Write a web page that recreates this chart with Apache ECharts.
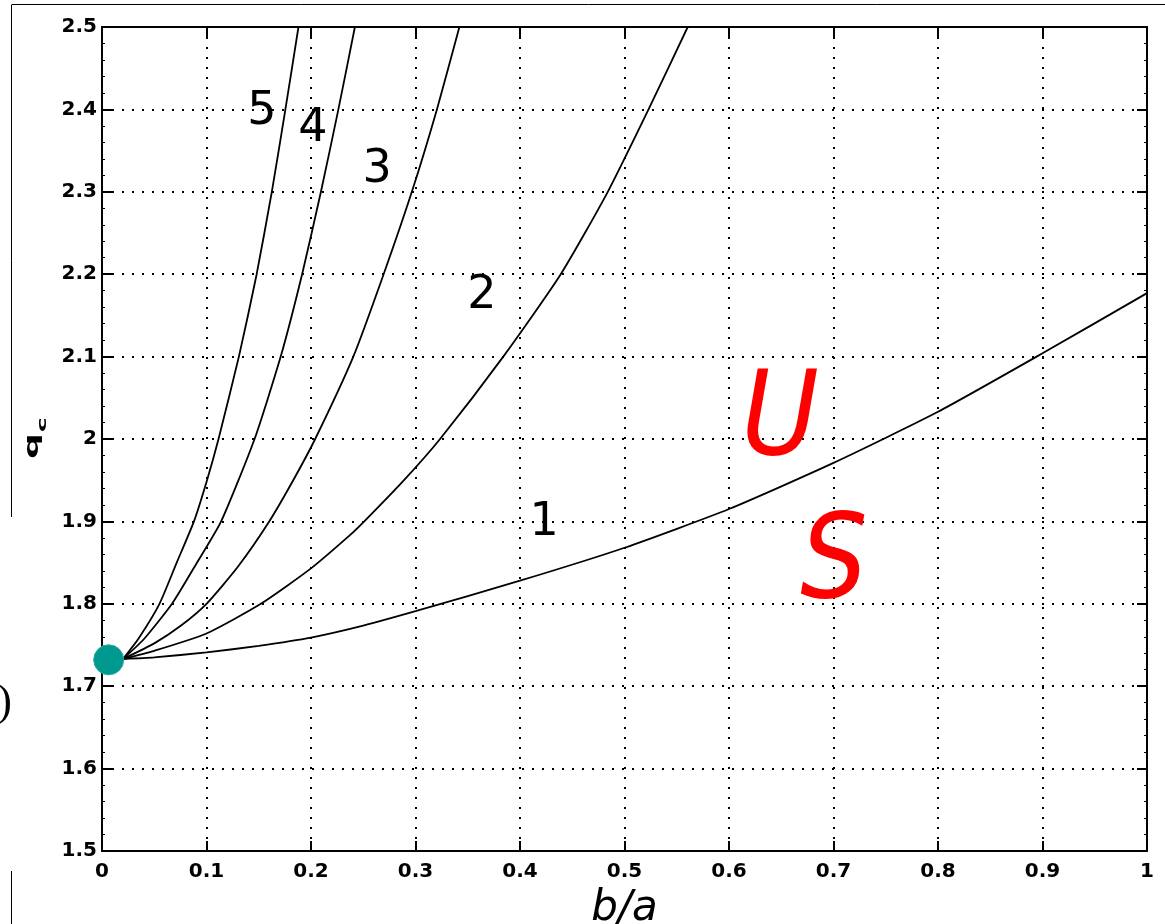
<!DOCTYPE html>
<html>
<head>
<meta charset="utf-8">
<script src="https://cdn.jsdelivr.net/npm/echarts@6/dist/echarts.min.js"></script>
<style>html,body{margin:0;padding:0;background:#fff;}#c{width:1165px;height:924px;}</style>
</head>
<body>
<div id="c"></div>
<script>
// ---- data ----
const xTicks = [0, 0.1, 0.2, 0.3, 0.4, 0.5, 0.6, 0.7, 0.8, 0.9, 1];
const yTicks = [1.5, 1.6, 1.7, 1.8, 1.9, 2, 2.1, 2.2, 2.3, 2.4, 2.5];

const curve1 = [[0.02,1.733],[0.05,1.735],[0.1,1.741],[0.15,1.749],[0.2,1.759],[0.25,1.7735],[0.3,1.791],[0.4,1.828],[0.5,1.868],[0.6,1.915],[0.7,1.971],[0.8,2.033],[0.9,2.104],[1.0,2.177]];
const curve2 = [[0.02,1.733],[0.05,1.743],[0.1,1.764],[0.152,1.8],[0.2,1.843],[0.237,1.883],[0.251,1.9],[0.289,1.95],[0.3235,2.0],[0.384,2.1],[0.439,2.2],[0.484,2.3],[0.523,2.4],[0.5605,2.5]];
const curve3 = [[0.02,1.733],[0.05,1.752],[0.075,1.773],[0.1,1.8],[0.13,1.845],[0.16,1.9],[0.183,1.95],[0.204,2.0],[0.2405,2.1],[0.2695,2.2],[0.2965,2.3],[0.3205,2.4],[0.342,2.5]];
const curve4 = [[0.02,1.733],[0.04,1.757],[0.067,1.8],[0.09,1.848],[0.114,1.9],[0.146,2.0],[0.171,2.1],[0.1915,2.2],[0.2095,2.3],[0.2262,2.4],[0.242,2.5]];
const curve5 = [[0.02,1.733],[0.035,1.758],[0.055,1.8],[0.0715,1.85],[0.088,1.9],[0.1005,1.95],[0.1115,2.0],[0.131,2.1],[0.148,2.2],[0.1625,2.3],[0.1755,2.4],[0.188,2.5]];
const criticalPoint = [[0.0064, 1.732]];

const curveNames = ['1', '2', '3', '4', '5'];
const curveLabelAt = [[0.423, 1.898], [0.3636, 2.174], [0.2632, 2.326], [0.2019, 2.376], [0.153, 2.397]];
const regionNames = ['U', 'S'];
const regionLabelAt = [[0.649, 2.0185], [0.7005, 1.845]];

// ---- chart ----
const chart = echarts.init(document.getElementById('c'), null, {renderer: 'canvas'});
const black = '#000';
const tickFont = {fontFamily: 'DejaVu Sans', fontWeight: 'bold', fontSize: 20, color: black};
const fmt1 = v => String(+(+v).toFixed(1));

function boxAxis(extra) {
  return Object.assign({
    type: 'value',
    axisLine: {show: true, onZero: false, lineStyle: {color: black, width: 2}},
    axisTick: {show: true, inside: true, length: 10, lineStyle: {color: black, width: 2}},
    splitLine: {show: false},
    axisLabel: {show: false}
  }, extra);
}

const curves = [curve1, curve2, curve3, curve4, curve5];
const series = curves.map((d, i) => ({
  type: 'line', name: 'n=' + curveNames[i], data: d, showSymbol: false, symbol: 'none',
  smooth: 0.2,
  lineStyle: {color: black, width: 1.8}, z: 3, silent: true
}));

series.push({
  type: 'scatter', data: curveLabelAt.map((p, i) => ({value: p, label: {formatter: curveNames[i]}})),
  symbolSize: 0, silent: true, z: 5, itemStyle: {opacity: 1},
  label: {show: true, position: 'inside', fontFamily: 'DejaVu Sans', fontSize: 46, color: black, opacity: 1}
});
series.push({
  type: 'scatter', data: regionLabelAt.map((p, i) => ({value: p, label: {formatter: regionNames[i]}})),
  symbolSize: 0, silent: true, z: 5, itemStyle: {opacity: 1},
  label: {show: true, position: 'inside', fontFamily: '"DejaVu Sans Condensed", "DejaVu Sans"', fontStyle: 'italic', fontSize: 118, color: '#ff0000', opacity: 1}
});
series.push({
  type: 'scatter', data: criticalPoint, symbolSize: 30, silent: true, z: 10,
  itemStyle: {color: '#009990', opacity: 1, borderColor: '#2aa7a0', borderWidth: 1}
});

chart.setOption({
  animation: false,
  backgroundColor: '#fff',
  grid: {left: 102, top: 27, width: 1045, height: 824, show: false, containLabel: false, outerBoundsMode: 'none'},
  xAxis: [
    boxAxis({
      position: 'bottom', min: xTicks[0], max: xTicks[xTicks.length - 1], interval: 0.1,
      axisLabel: Object.assign({show: true, margin: 11, formatter: fmt1, showMinLabel: true, showMaxLabel: true}, tickFont),
      splitLine: {show: true, lineStyle: {color: black, width: 2, type: [2, 8]}},
      name: 'b/a', nameLocation: 'middle', nameGap: 37,
      nameTextStyle: {fontFamily: 'DejaVu Sans', fontStyle: 'italic', fontSize: 42, color: black}
    }),
    boxAxis({position: 'top', min: xTicks[0], max: xTicks[xTicks.length - 1], interval: 0.1})
  ],
  yAxis: [
    boxAxis({
      position: 'left', min: yTicks[0], max: yTicks[yTicks.length - 1], interval: 0.1,
      axisLabel: Object.assign({show: true, margin: 5, formatter: fmt1, showMinLabel: true, showMaxLabel: true}, tickFont),
      splitLine: {show: true, lineStyle: {color: black, width: 2, type: [2, 8]}},
      minorTick: {show: true, splitNumber: 5, length: 3, lineStyle: {color: black, width: 1}}
    }),
    boxAxis({position: 'right', min: yTicks[0], max: yTicks[yTicks.length - 1], interval: 0.1,
      minorTick: {show: true, splitNumber: 5, length: 3, lineStyle: {color: black, width: 1}}})
  ],
  graphic: [
    {type: 'line', shape: {x1: 12, y1: 4.5, x2: 1165, y2: 4.5}, style: {stroke: black, lineWidth: 1}, silent: true},
    {type: 'line', shape: {x1: 11.5, y1: 4.5, x2: 11.5, y2: 517}, style: {stroke: black, lineWidth: 1}, silent: true},
    {type: 'line', shape: {x1: 11.5, y1: 871, x2: 11.5, y2: 924}, style: {stroke: black, lineWidth: 1}, silent: true},
    {type: 'text', x: 12, y: 703, style: {text: ')', font: '44px "Liberation Serif"', fill: black, textAlign: 'right', textVerticalAlign: 'middle'}, silent: true},
    // y-axis title q_c (rotated, stretched along the text direction as in the reference)
    {type: 'group', x: 34, y: 459, rotation: Math.PI / 2, silent: true, children: [
      {type: 'text', x: 0, y: -1.4, scaleX: 1.9, style: {text: 'q', font: 'bold 19px "DejaVu Sans"', fill: black, align: 'left', verticalAlign: 'middle'}},
      {type: 'text', x: 27, y: 8.5, scaleX: 1.9, style: {text: 'c', font: 'bold 13px "DejaVu Sans"', fill: black, align: 'left', verticalAlign: 'middle'}}
    ]}
  ],
  series: series
});
</script>
</body>
</html>
